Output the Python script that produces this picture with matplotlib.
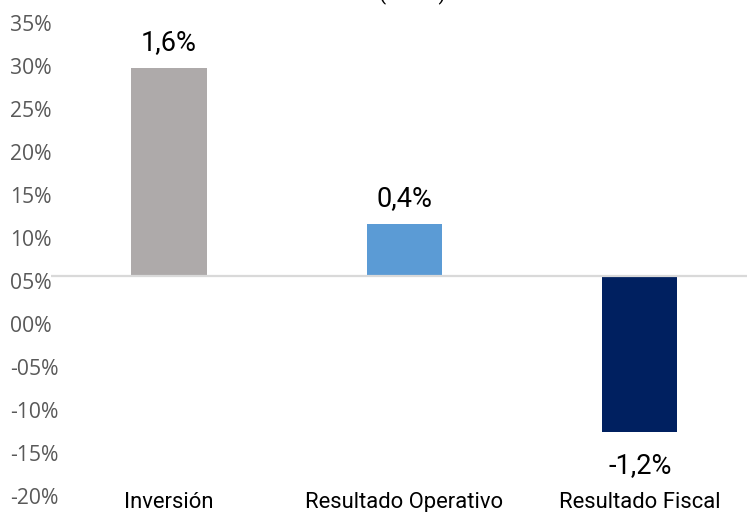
import matplotlib
matplotlib.use('Agg')
import matplotlib.pyplot as plt
from matplotlib import font_manager

# --- DATA ---
categories = ['Inversión', 'Resultado Operativo', 'Resultado Fiscal']
value_labels = ['1,6%', '0,4%', '-1,2%']
bar_heights = [24.2, 6.05, -18.15]
bar_base = 5.58                       # bars start at the grey line
tick_values = [35, 30, 25, 20, 15, 10, 5, 0, -5, -10, -15, -20]
tick_labels = ['35%', '30%', '25%', '20%', '15%', '10%', '05%', '00%',
               '-05%', '-10%', '-15%', '-20%']
colors = ['#AEAAAA', '#5B9BD5', '#002060']
title = '(% PIB)'

names = {f.name for f in font_manager.fontManager.ttflist}
if 'Liberation Sans Narrow' in names:
    cat_font, cat_size = 'Liberation Sans Narrow', 19
else:
    cat_font, cat_size = 'Roboto', 15.8

plt.rcParams['font.family'] = ['Roboto', 'DejaVu Sans']

fig = plt.figure(figsize=(7.47, 5.12), dpi=100)
ax = fig.add_axes([51.4 / 747, 16 / 512, 706 / 747, 473 / 512])

x = range(len(categories))
ax.bar(x, bar_heights, bottom=bar_base, width=0.32, color=colors, zorder=2)
ax.axhline(bar_base, color='#D9D9D9', lw=1.6, zorder=3)

for i, (h, lab) in enumerate(zip(bar_heights, value_labels)):
    if h >= 0:
        y = bar_base + h + 2.1
    else:
        y = bar_base + h - 4.77
    ax.text(i, y, lab, ha='center', va='baseline', fontsize=19.5, color='#000000')

for i, c in enumerate(categories):
    ax.text(i, -21.4, c, ha='center', va='baseline', fontsize=cat_size,
            family=[cat_font, 'DejaVu Sans'], color='#000000', clip_on=False)

ax.set_xlim(-0.5, 2.5)
ax.set_ylim(-20, 35)
ax.set_yticks(tick_values)
ax.set_yticklabels(tick_labels, family=['Open Sans', 'DejaVu Sans'])
ax.tick_params(axis='y', length=0, pad=29.5, labelsize=15.2, labelcolor='#595959')
for t in ax.get_yticklabels():
    t.set_horizontalalignment('left')
ax.set_xticks([])
for s in ax.spines.values():
    s.set_visible(False)

# title sits mostly above the visible area
fig.text(412 / 747, 1.0, title, ha='center', va='baseline', fontsize=15, color='#000000')

fig.savefig('out.png', dpi=100)
